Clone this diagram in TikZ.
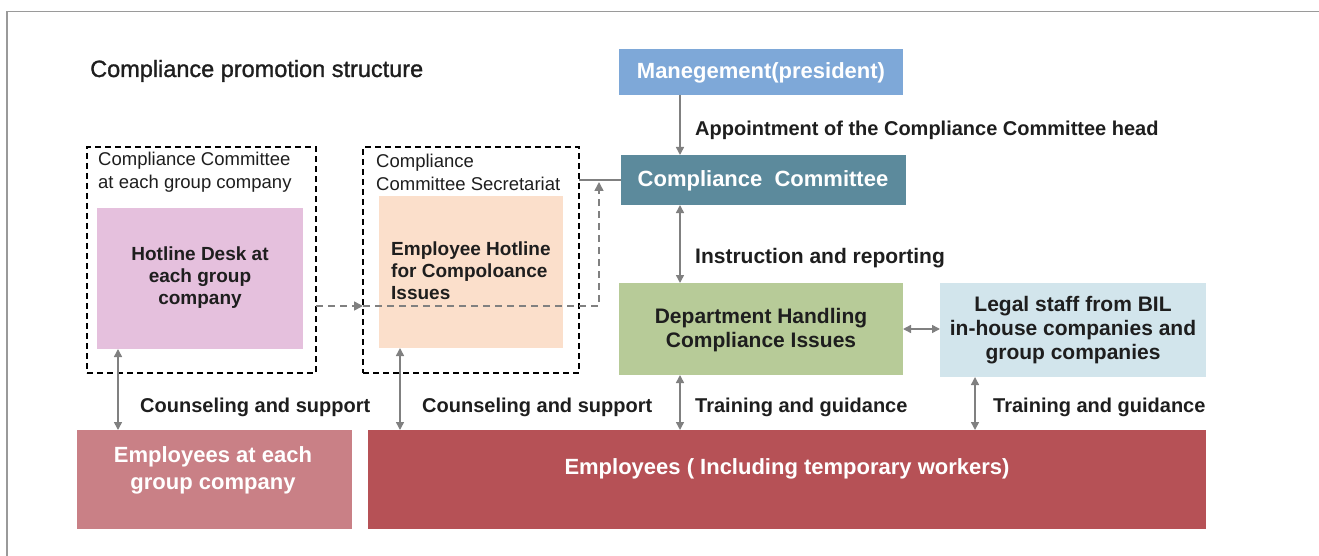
\documentclass[tikz,border=0pt]{standalone}
\usepackage{fontspec}
\setmainfont{Liberation Sans}
\newfontfamily\titlefont{Liberation Sans}[FakeBold=1.2]
\usetikzlibrary{arrows.meta,calc}
\definecolor{mgmtc}{HTML}{7EA8D8}
\definecolor{commc}{HTML}{5C8A9C}
\definecolor{pinkc}{HTML}{E5C0DD}
\definecolor{peachc}{HTML}{FBDFCB}
\definecolor{greenc}{HTML}{B7CB98}
\definecolor{legalc}{HTML}{D2E5EC}
\definecolor{empgc}{HTML}{C98086}
\definecolor{empc}{HTML}{B65156}
\definecolor{arrc}{HTML}{808080}
\definecolor{framec}{HTML}{9A9A9A}
\definecolor{txtc}{HTML}{1E1E1E}
\begin{document}
\begin{tikzpicture}[x=1pt,y=-1pt,
  rect/.style={draw=none, inner sep=0pt, outer sep=0pt, align=center},
  dbox/.style={draw=black, dash pattern=on 6pt off 4pt, line width=1.6pt, inner sep=0pt, outer sep=0pt},
  btext/.style={inner sep=0pt, text=txtc, align=center, font=\bfseries\fontsize{19}{22}\selectfont},
  btextb/.style={inner sep=0pt, text=txtc, align=center, font=\bfseries\fontsize{21}{24}\selectfont},
  wtext/.style={text=white, align=center, font=\bfseries\fontsize{22}{27}\selectfont},
  dlbl/.style={inner sep=0pt, text=txtc, align=left, font=\fontsize{18.5}{23}\selectfont},
  lbl/.style={inner sep=0pt, text=txtc, font=\bfseries\fontsize{20}{24}\selectfont},
  lblb/.style={inner sep=0pt, text=txtc, font=\bfseries\fontsize{21}{24}\selectfont},
  titlet/.style={inner sep=0pt, text=txtc, font=\titlefont\fontsize{23.5}{27}\selectfont},
  arr/.style={arrc, line width=1.5pt, -{Triangle[length=8pt,width=8pt]}},
  darr/.style={arrc, line width=1.5pt, {Triangle[length=8pt,width=8pt]}-{Triangle[length=8pt,width=8pt]}},
  dasharr/.style={arrc, line width=1.5pt, dash pattern=on 7pt off 5pt, -{Triangle[length=9pt,width=9pt]}},
]
\useasboundingbox (0,0) rectangle (1319,556);
\draw[framec, line width=1.5pt] (7,556) -- (7,11.5) -- (1319,11.5);

\node[titlet, anchor=base west] (title) at (90,77) {Compliance promotion structure};

% dashed group boxes
\node[dbox, minimum width=229pt, minimum height=226pt] (box1) at (201.5,260) {};
\node[dbox, minimum width=216pt, minimum height=226pt] (box2) at (471,260) {};
\node[dlbl, anchor=west] (box1lbl) at (98,172) {Compliance Committee\\at each group company};
\node[dlbl, anchor=west] (box2lbl) at (376,172) {Compliance\\Committee Secretariat};

% inner boxes
\node[rect, fill=pinkc, minimum width=206pt, minimum height=141pt] (desk) at (200,278.5) {};
\node[btext] (desktxt) at (200,278) {Hotline Desk at\\each group\\company};
\node[rect, fill=peachc, minimum width=184pt, minimum height=152pt] (hotline) at (471,272) {};
\node[btext, align=left, anchor=west] (hotlinetxt) at (391,271) {Employee Hotline\\for Compoloance\\Issues};

% right column
\node[rect, fill=mgmtc, minimum width=284pt, minimum height=46pt] (mgmt) at (761,72) {};
\node[wtext] (mgmttxt) at (761,72.5) {Manegement(president)};
\node[rect, fill=commc, minimum width=285pt, minimum height=50pt] (comm) at (763.5,180) {};
\node[wtext] (commtxt) at (763,181) {Compliance\ \ Committee};
\node[rect, fill=greenc, minimum width=284pt, minimum height=92pt] (dept) at (761,329) {};
\node[btextb] (depttxt) at (761,330) {Department Handling\\Compliance Issues};
\node[rect, fill=legalc, minimum width=266pt, minimum height=94pt] (legal) at (1073,330) {};
\node[btextb] (legaltxt) at (1073,330) {Legal staff from BIL\\in-house companies and\\group companies};

% employees
\node[rect, fill=empgc, minimum width=275pt, minimum height=99pt] (empg) at (214.5,479.5) {};
\node[wtext] (empgtxt) at (213,470) {Employees at each\\group company};
\node[rect, fill=empc, minimum width=838pt, minimum height=99pt] (emp) at (787,479.5) {};
\node[wtext] (emptxt) at (787,469) {Employees ( Including temporary workers)};

% connectors
\coordinate (ax) at (680,0);
\coordinate (bx1) at (118,0);
\coordinate (bx2) at (400,0);
\coordinate (bx4) at (975,0);
\coordinate (dy) at (0,306);
\coordinate (dx) at (599,0);

\draw[arr] (mgmt.south -| ax) -- (comm.north -| ax);
\draw[darr] (comm.south -| ax) -- (dept.north -| ax);
\draw[darr] (dept.east) -- (dept.east -| legal.west);
\draw[darr] (desk.south -| bx1) -- (empg.north -| bx1);
\draw[darr] (hotline.south -| bx2) -- (emp.north -| bx2);
\draw[darr] (dept.south -| ax) -- (emp.north -| ax);
\draw[darr] (legal.south -| bx4) -- (emp.north -| bx4);
\draw[arrc, line width=1.5pt] (comm.west) -- (comm.west -| box2.east);
\draw[dasharr] (box1.east |- dy) -- (box2.west |- dy);
\draw[dasharr, shorten >=2pt] (box2.west |- dy) -- (dx |- dy) -- (dx |- comm.west);

% labels
\node[lbl, anchor=base west] (l1) at (695,136) {Appointment of the Compliance Committee head};
\node[lblb, anchor=base west] (l2) at (695,263.5) {Instruction and reporting};
\node[lbl, anchor=base west] (l3) at (140,412) {Counseling and support};
\node[lbl, anchor=base west] (l4) at (422,412) {Counseling and support};
\node[lbl, anchor=base west] (l5) at (695,412) {Training and guidance};
\node[lbl, anchor=base west] (l6) at (993,412) {Training and guidance};
\end{tikzpicture}
\end{document}
